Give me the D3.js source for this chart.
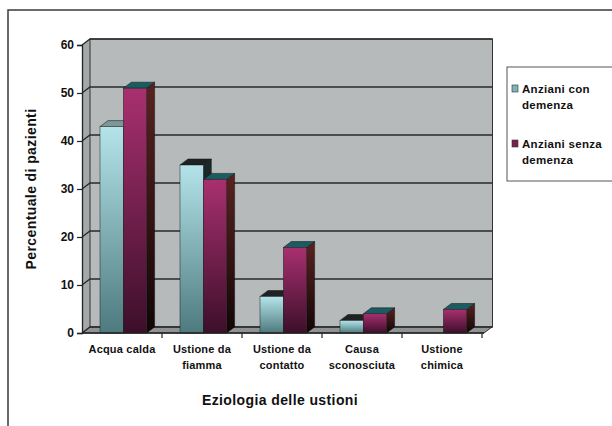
<!DOCTYPE html>
<html><head><meta charset="utf-8">
<script src="https://cdn.jsdelivr.net/npm/d3@7/dist/d3.min.js"></script>
<style>body{margin:0;background:#fff}svg{display:block;font-family:"Liberation Sans",Arial,sans-serif}</style>
</head><body><svg id="c" width="612" height="426"></svg>
<script>
const categories = [["Acqua calda"], ["Ustione da","fiamma"], ["Ustione da","contatto"], ["Causa","sconosciuta"], ["Ustione","chimica"]];
const series = ["Anziani con demenza", "Anziani senza demenza"];
const legendLines = [["Anziani con","demenza"],["Anziani senza","demenza"]];
const conDemenza = [43, 35, 7.6, 2.6, 0];
const senzaDemenza = [51, 32, 17.8, 4, 4.9];
const yTicks = [0, 10, 20, 30, 40, 50, 60];
const yTitle = "Percentuale di pazienti";
const xTitle = "Eziologia delle ustioni";

const svg = d3.select("#c");
const dx = 8, dy = -6;
const x0 = d3.scaleBand().domain(d3.range(categories.length)).range([82, 482]);
const x1 = d3.scaleBand().domain(series).range([18, 64.6]);
const y = d3.scaleLinear().domain([0, 60]).range([333, 45]);

// outer frame
svg.append("path").attr("d", "M8,426V10H612").attr("fill", "none").attr("stroke", "#3a3a3a").attr("stroke-width", 1.5);

const defs = svg.append("defs");
function grad(id, c1, c2) {
  const g = defs.append("linearGradient").attr("id", id).attr("x1", 0).attr("y1", 0).attr("x2", 0).attr("y2", 1);
  g.append("stop").attr("offset", "0%").attr("stop-color", c1);
  g.append("stop").attr("offset", "100%").attr("stop-color", c2);
}
grad("gc", "#b4e4ea", "#4d7a7e");
grad("gm", "#a8306f", "#3c0f2a");
grad("gcs", "#1c2a2a", "#050808");
grad("gms", "#5a2222", "#120606");

const X0 = x0.range()[0], X1 = x0.range()[1];
const yTop = y(60), yBot = y(0);
// left wall
svg.append("path").attr("d", `M${X0},${yBot}V${yTop}L${X0+dx},${yTop+dy}V${yBot+dy}Z`).attr("fill", "#a4a8a9");
// back wall
svg.append("rect").attr("x", X0+dx).attr("y", yTop+dy).attr("width", X1+2.5-X0).attr("height", yBot-yTop).attr("fill", "#b6babb").attr("stroke", "#333").attr("stroke-width", 1);
// floor
svg.append("path").attr("d", `M${X0},${yBot}H${X1+2}L${X1+2+dx},${yBot+dy}H${X0+dx}Z`).attr("fill", "#8f9394").attr("stroke", "#333").attr("stroke-width", 1);

// gridlines
yTicks.forEach(t => {
  const yy = y(t);
  svg.append("path").attr("d", `M${X0},${yy}L${X0+dx},${yy+dy}H${X1+2.5+dx}`).attr("fill", "none").attr("stroke", "#2a2a2a").attr("stroke-width", 1.3);
});

// bars
const data = [conDemenza, senzaDemenza];
const fills = [["url(#gc)", "url(#gcs)", "#1e2222"], ["url(#gm)", "url(#gms)", "#1b5b62"]];
categories.forEach((c, i) => {
  series.forEach((s, j) => {
    const v = data[j][i];
    if (v <= 0) return;
    const xl = x0(i) + x1(s), w = x1.bandwidth();
    const yt = y(v), yb = y(0);
    const g = svg.append("g");
    g.append("path").attr("d", `M${xl+w},${yb}V${yt}L${xl+w+dx},${yt+dy}V${yb+dy}Z`).attr("fill", fills[j][1]).attr("stroke", "#111").attr("stroke-width", 0.5);
    g.append("path").attr("d", `M${xl},${yt}L${xl+dx},${yt+dy}H${xl+w+dx}L${xl+w},${yt}Z`).attr("fill", (j===0 && i===0) ? "#7d9797" : fills[j][2]).attr("stroke", "#111").attr("stroke-width", 0.5);
    g.append("rect").attr("x", xl).attr("y", yt).attr("width", w).attr("height", yb-yt).attr("fill", fills[j][0]).attr("stroke", "#222").attr("stroke-width", 0.5);
  });
});

// y axis
const yAxis = d3.axisLeft(y).tickValues(yTicks).tickSize(5).tickPadding(3);
const ga = svg.append("g").attr("transform", `translate(${X0},0)`).call(yAxis);
ga.select(".domain").attr("stroke", "#222").attr("stroke-width", 1.3);
ga.selectAll(".tick line").attr("stroke", "#222").attr("stroke-width", 1.2);
ga.selectAll("text").attr("font-size", 12).attr("font-weight", "bold").attr("fill", "#111").attr("font-family", "Liberation Sans, Arial, sans-serif");

// x axis line + ticks
svg.append("line").attr("x1", X0).attr("x2", X1+2).attr("y1", yBot).attr("y2", yBot).attr("stroke", "#222").attr("stroke-width", 1.3);
categories.forEach((c, i) => {
  const xt = x0(i) + x0.bandwidth();
  svg.append("line").attr("x1", xt).attr("x2", xt).attr("y1", yBot).attr("y2", yBot+5).attr("stroke", "#222").attr("stroke-width", 1.2);
  const t = svg.append("text").attr("x", x0(i) + x0.bandwidth()/2).attr("y", 353).attr("text-anchor", "middle")
    .attr("font-size", 11).attr("font-weight", "bold").attr("fill", "#111").attr("letter-spacing", 0.2);
  c.forEach((ln, k) => t.append("tspan").attr("x", x0(i) + x0.bandwidth()/2).attr("dy", k ? 15.5 : 0).text(ln));
});

// titles
svg.append("text").attr("x", 280).attr("y", 405).attr("text-anchor", "middle").attr("font-size", 14).attr("font-weight", "bold").attr("fill", "#111").attr("letter-spacing", 0.4).text(xTitle);
svg.append("text").attr("transform", "translate(36,189) rotate(-90)").attr("text-anchor", "middle").attr("font-size", 14).attr("font-weight", "bold").attr("fill", "#111").attr("letter-spacing", 0.4).text(yTitle);

// legend
svg.append("rect").attr("x", 507).attr("y", 67).attr("width", 120).attr("height", 114).attr("fill", "#fff").attr("stroke", "#555").attr("stroke-width", 1);
const legColors = ["#7fb3b8", "#7a2050"];
legendLines.forEach((lines, j) => {
  const yy = 89 + j * 55;
  svg.append("rect").attr("x", 512).attr("y", yy-4).attr("width", 6).attr("height", 7).attr("fill", legColors[j]).attr("stroke", "#333").attr("stroke-width", 0.6);
  lines.forEach((ln, k) => {
    svg.append("text").attr("x", 522).attr("y", yy + 4 + k*15.5).attr("font-size", 11.5).attr("font-weight", "bold").attr("fill", "#111").attr("letter-spacing", 0.3).text(ln);
  });
});
</script></body></html>
